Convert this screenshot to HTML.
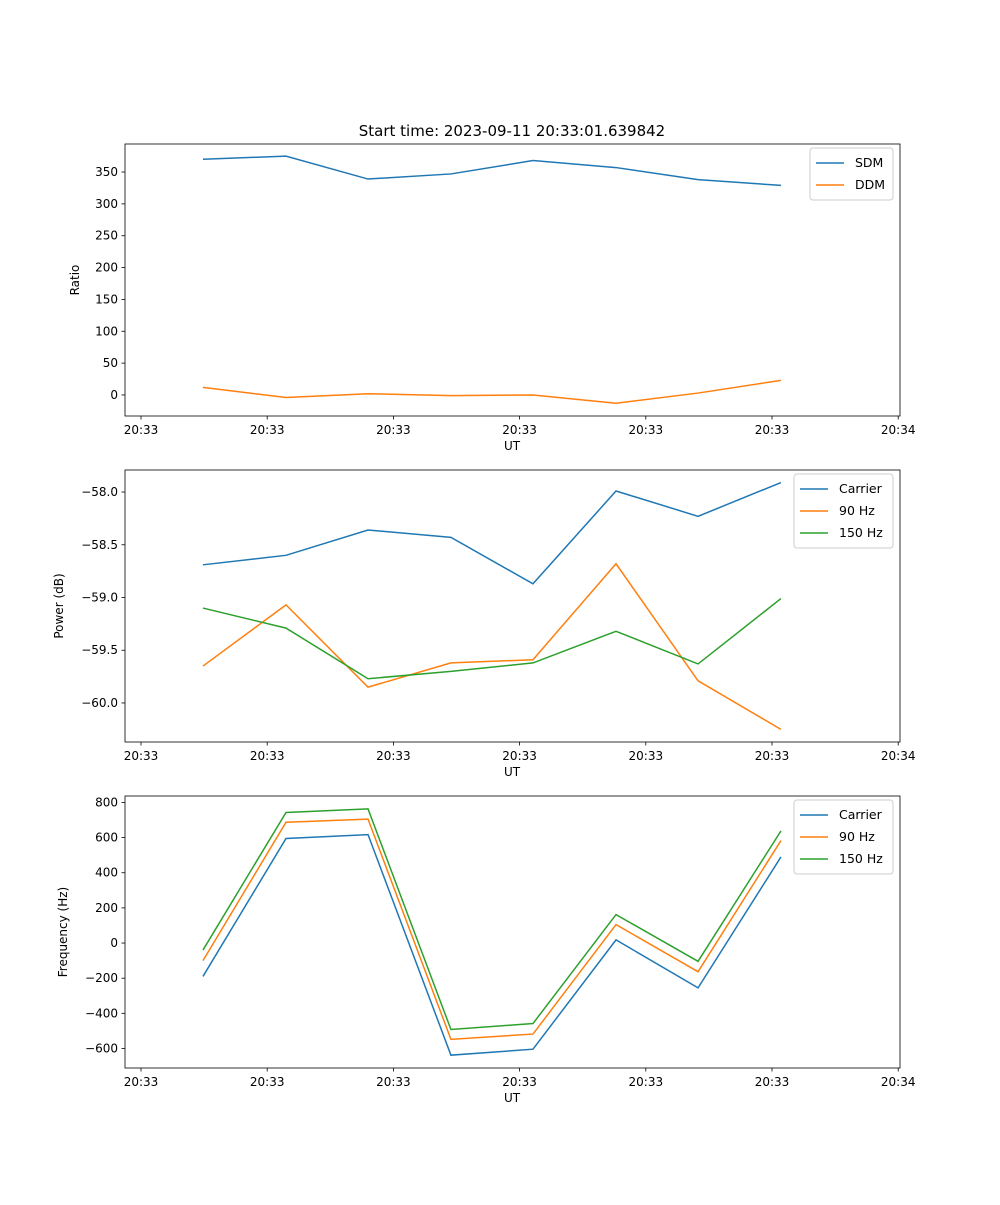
<!DOCTYPE html>
<html><head><meta charset="utf-8"><style>
body{margin:0;background:#fff}
svg{font-family:"DejaVu Sans","Liberation Sans",sans-serif}
</style></head><body>
<svg id="fig" width="1000" height="1200" xmlns="http://www.w3.org/2000/svg">
<rect width="1000" height="1200" fill="#fff"/>
<text x="512" y="136" font-size="15" text-anchor="middle">Start time: 2023-09-11 20:33:01.639842</text>
</svg>
<script>
const times = [4.91, 11.49, 17.99, 24.56, 31.06, 37.64, 44.14, 50.71];
const tickSecs = [0, 10, 20, 30, 40, 50, 60];
const tickLabels = ["20:33","20:33","20:33","20:33","20:33","20:33","20:34"];
const sdm = [370,375,339,347,368,357,338,329];
const ddm = [12,-4,2,-1,0,-13,3,23];
const pCarrier = [-58.69,-58.60,-58.36,-58.43,-58.87,-57.99,-58.23,-57.91];
const p90 = [-59.65,-59.07,-59.85,-59.62,-59.59,-58.68,-59.79,-60.25];
const p150 = [-59.10,-59.29,-59.77,-59.70,-59.62,-59.32,-59.63,-59.01];
const fCarrier = [-190,595,617,-638,-604,18,-255,490];
const f90 = [-100,687,705,-548,-518,105,-163,583];
const f150 = [-40,743,763,-492,-458,162,-104,638];
const ticks1 = [0,50,100,150,200,250,300,350];
const ticks2 = [-60.0,-59.5,-59.0,-58.5,-58.0];
const ticks3 = [-600,-400,-200,0,200,400,600,800];

const svg=document.getElementById('fig');
const NS="http://www.w3.org/2000/svg";
function mk(tag,attrs,parent){const e=document.createElementNS(NS,tag);for(const k in attrs)e.setAttribute(k,attrs[k]);(parent||svg).appendChild(e);return e;}
const L=125,R=900;
const xs=t=>141+(t/10)*126.2;

function panel(name,top,bot,ymin,ymax,yticks,fmt,ylabel,series,legend){
  const g=mk('g',{});
  
  
  const ys=v=>bot-(v-ymin)/(ymax-ymin)*(bot-top);
  series.forEach(s=>{
    const p=mk('polyline',{points:s.vals.map((v,i)=>xs(times[i])+','+ys(v)).join(' '),fill:'none',stroke:s.color,'stroke-width':1.5},g);
    
    
  });
  const fr=mk('rect',{x:L,y:top,width:R-L,height:bot-top,fill:'none',stroke:'#000','stroke-width':0.8},g);
  
  
  yticks.forEach(v=>{
    const y=ys(v);
    mk('line',{x1:L-3.5,x2:L,y1:y,y2:y,stroke:'#000','stroke-width':0.8},g);
    const t=mk('text',{x:L-7,y:y+4,'font-size':12,'text-anchor':'end'},g);
    t.textContent=fmt(v);
    
    
  });
  tickSecs.forEach((s,i)=>{
    const x=xs(s);
    mk('line',{x1:x,x2:x,y1:bot,y2:bot+3.5,stroke:'#000','stroke-width':0.8},g);
    const t=mk('text',{x:x,y:bot+18,'font-size':12,'text-anchor':'middle'},g);
    t.textContent=tickLabels[i];
    
    
  });
  const xl=mk('text',{x:512,y:bot+34,'font-size':12,'text-anchor':'middle'},g);
  xl.textContent='UT';
  
  
  const yc=(top+bot)/2;
  const yl=mk('text',{x:0,y:0,'font-size':12,'text-anchor':'middle',transform:`translate(${legend.ylx},${yc}) rotate(-90)`},g);
  yl.textContent=ylabel;
  
  
  const lg=mk('g',{},g);
  
  
  mk('rect',{x:legend.x,y:top+4,width:legend.w,height:8+22*series.length,rx:3,fill:'#fff','fill-opacity':0.8,stroke:'#ccc'},lg);
  series.forEach((s,i)=>{
    const y=top+19+22*i;
    mk('line',{x1:legend.x+6,x2:legend.x+34,y1:y,y2:y,stroke:s.color,'stroke-width':1.5},lg);
    const t=mk('text',{x:legend.x+45,y:y+4,'font-size':12.5},lg);
    t.textContent=s.label;
    
    
  });
}
const B='#1f77b4',O='#ff7f0e',G='#2ca02c';
panel('ratio-panel',144,416,-33,394,ticks1,v=>String(v),'Ratio',
  [{name:'sdm',label:'SDM',vals:sdm,color:B},{name:'ddm',label:'DDM',vals:ddm,color:O}],{x:810,w:83,ylx:79});
panel('power-panel',470,742,-60.370,-57.791,ticks2,v=>(v<0?'\u2212':'')+Math.abs(v).toFixed(1),'Power (dB)',
  [{name:'carrier-power',label:'Carrier',vals:pCarrier,color:B},{name:'power-90hz',label:'90 Hz',vals:p90,color:O},{name:'power-150hz',label:'150 Hz',vals:p150,color:G}],{x:794,w:99,ylx:63});
panel('frequency-panel',796,1068,-711,836.6,ticks3,v=>(v<0?'\u2212':'')+Math.abs(v),'Frequency (Hz)',
  [{name:'carrier-frequency',label:'Carrier',vals:fCarrier,color:B},{name:'frequency-90hz',label:'90 Hz',vals:f90,color:O},{name:'frequency-150hz',label:'150 Hz',vals:f150,color:G}],{x:794,w:99,ylx:67});
</script>
</body></html>
